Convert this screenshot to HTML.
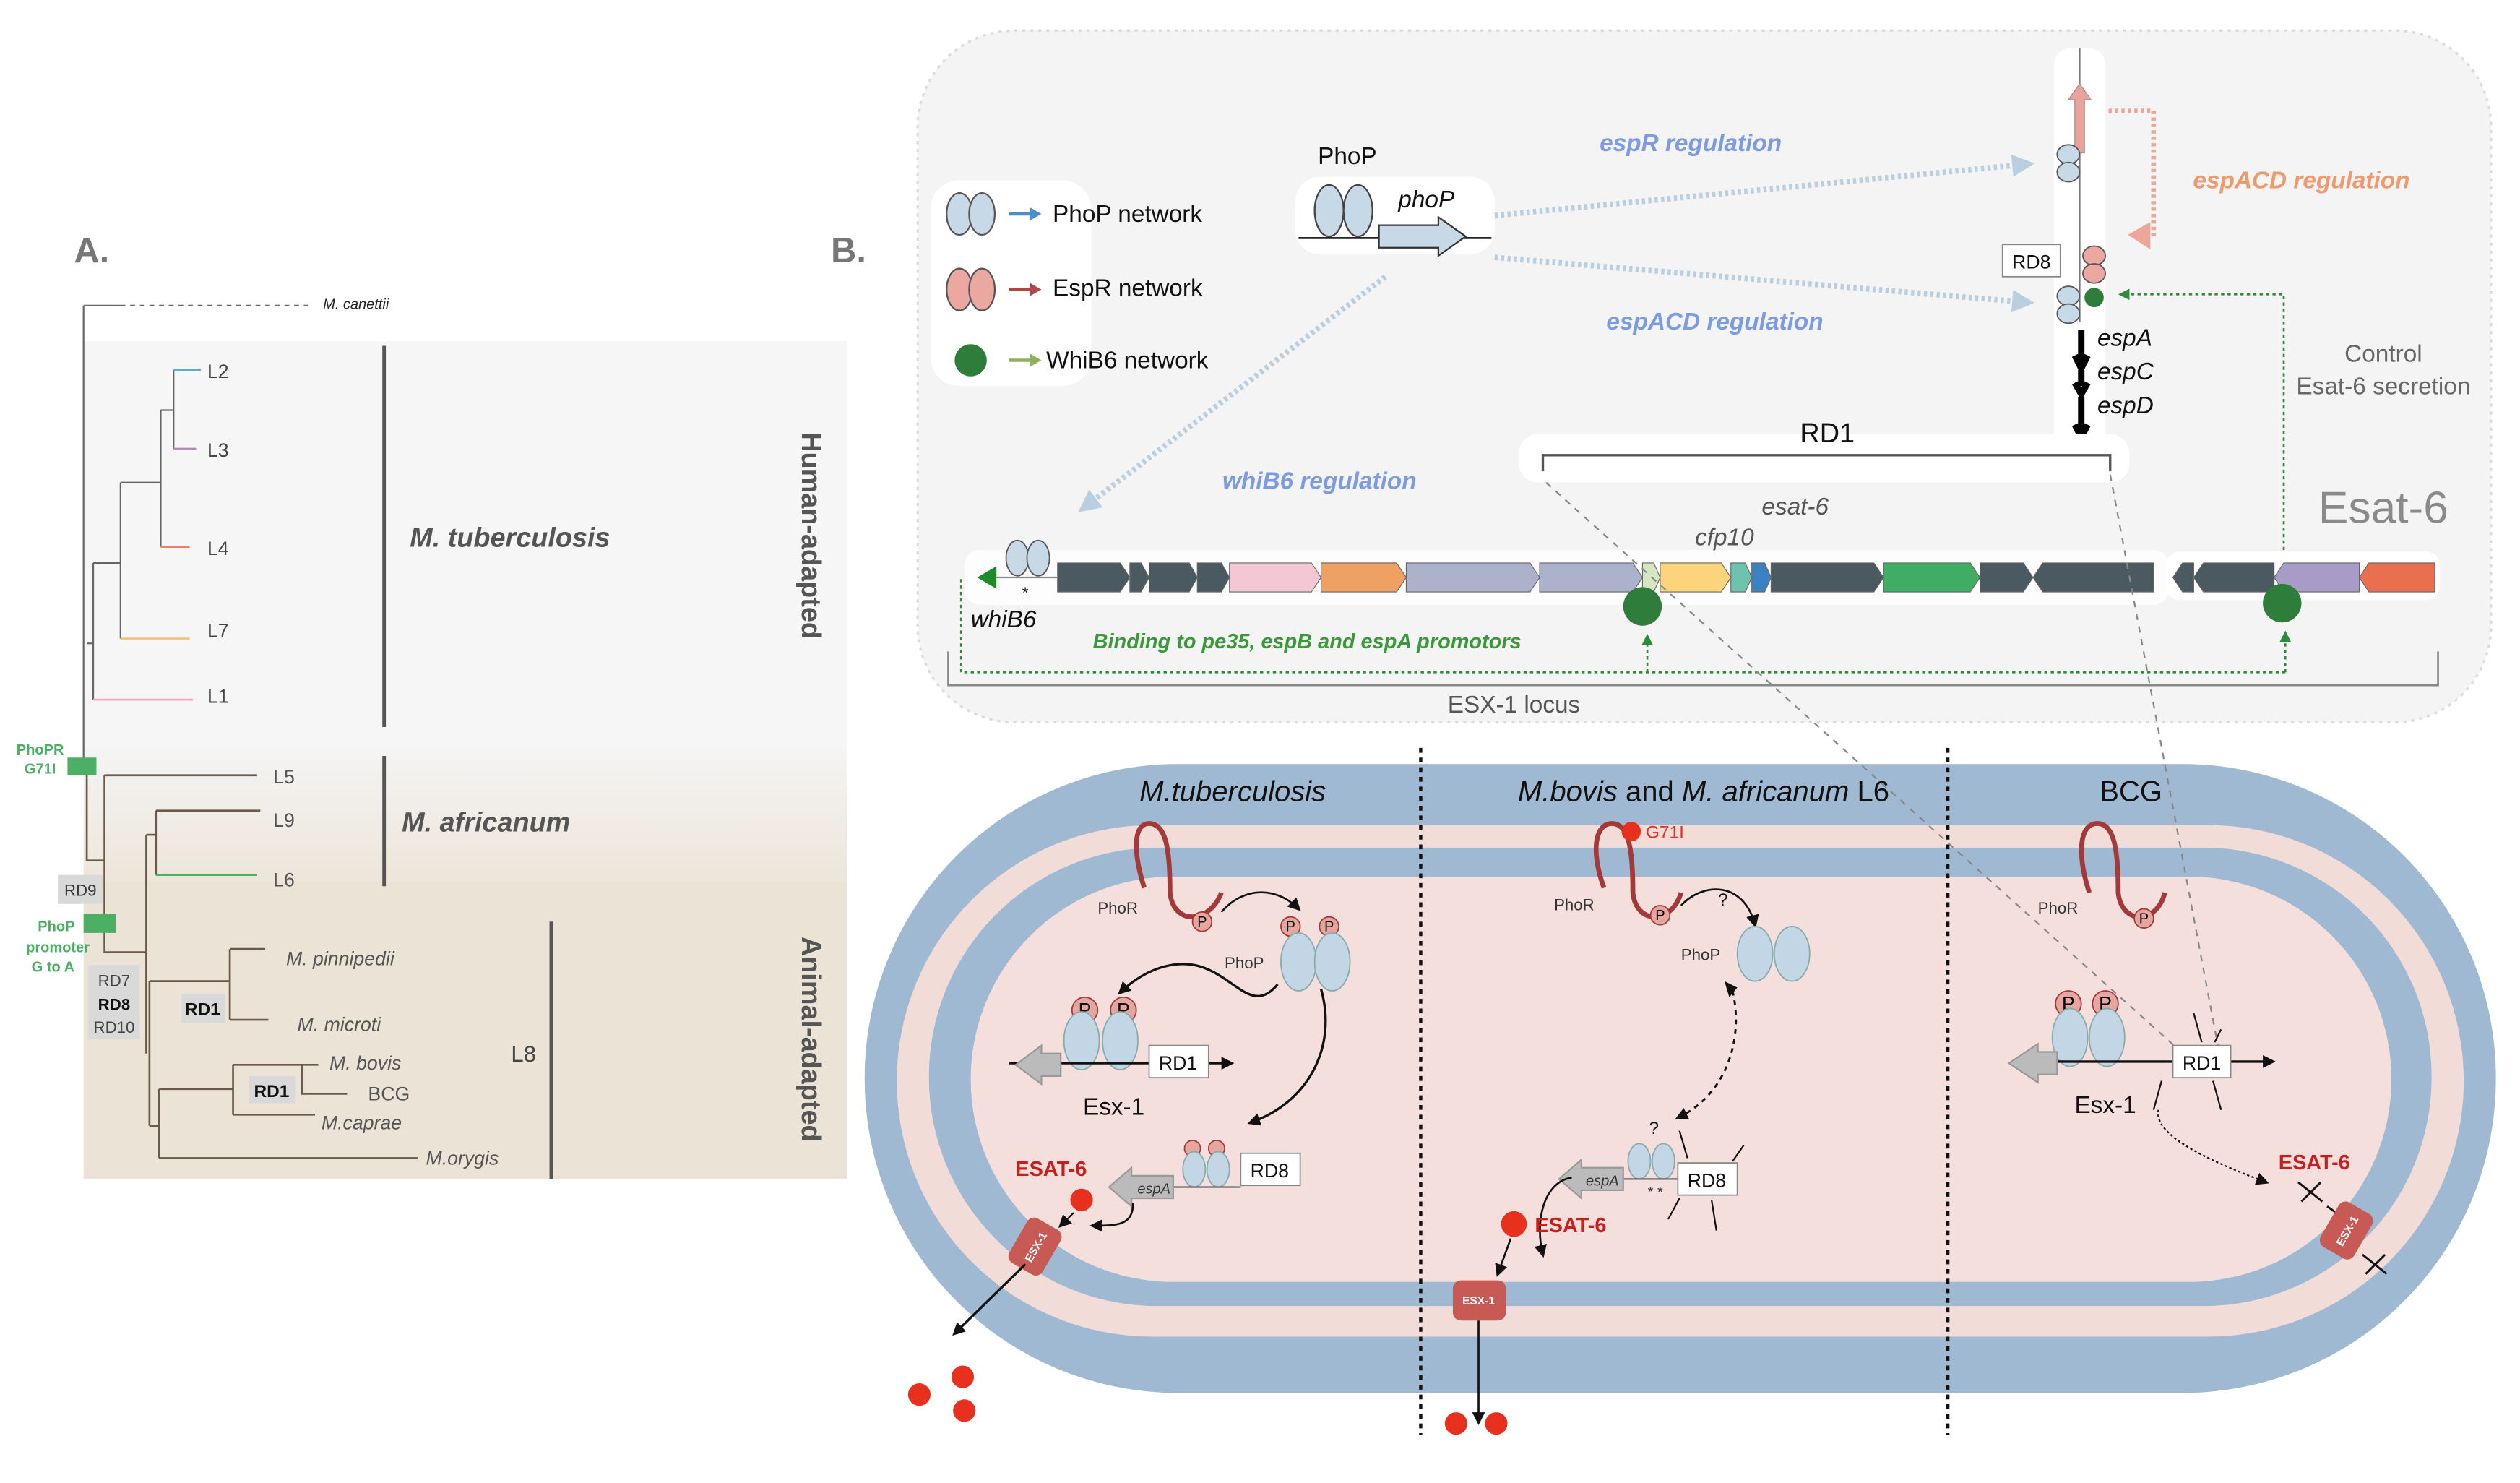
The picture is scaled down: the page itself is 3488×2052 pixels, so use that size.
<!DOCTYPE html>
<html><head><meta charset="utf-8"><style>
html,body{margin:0;padding:0;background:#fff;}
svg{display:block;}
text{font-family:"Liberation Sans",sans-serif;}
</style></head><body>
<svg width="3488" height="2052" viewBox="0 0 1568 922" preserveAspectRatio="none" xmlns="http://www.w3.org/2000/svg">
<defs>
<marker id="ab" markerWidth="8" markerHeight="8" refX="6" refY="4" orient="auto" markerUnits="userSpaceOnUse"><path d="M0,0 L8,4 L0,8 z" fill="#111"/></marker>
<marker id="ag" markerWidth="7" markerHeight="7" refX="5" refY="3.5" orient="auto" markerUnits="userSpaceOnUse"><path d="M0,0 L7,3.5 L0,7 z" fill="#2e8b3a"/></marker>
<marker id="alb" markerWidth="14" markerHeight="14" refX="10" refY="7" orient="auto" markerUnits="userSpaceOnUse"><path d="M0,0 L14,7 L0,14 z" fill="#b9cfe0"/></marker>
<linearGradient id="afr" x1="0" y1="0" x2="0" y2="1"><stop offset="0" stop-color="#f4f4f4"/><stop offset="1" stop-color="#ede5d9"/></linearGradient>
</defs>

<!-- ===== Panel A ===== -->
<text x="46" y="163" font-size="22" font-weight="bold" fill="#777">A.</text>
<rect x="52" y="212" width="475" height="253" fill="#f6f6f6"/>
<rect x="52" y="465" width="475" height="83" fill="url(#afr)"/>
<rect x="52" y="548" width="475" height="185" fill="#ebe3d6"/>

<g stroke="#666" stroke-width="1" fill="none">
<path d="M52,190 H75"/><path d="M75,190 H195" stroke-dasharray="3,3"/>
<path d="M52,190 V480"/>
<path d="M108,230 V279"/><path d="M100,255 H108"/><path d="M100,255 V340"/>
<path d="M75,300 H100"/><path d="M75,300 V397"/>
<path d="M58,350 H75"/><path d="M58,350 V435"/><path d="M54,400 H58"/>
</g>
<path d="M108,230 H125" stroke="#5aa9d6" stroke-width="1.2"/>
<path d="M108,279 H122" stroke="#b58ab8" stroke-width="1.2"/>
<path d="M100,340 H118" stroke="#e8806f" stroke-width="1.2"/>
<path d="M75,397 H118" stroke="#f2c27a" stroke-width="1.2"/>
<path d="M58,435 H120" stroke="#f0a9c4" stroke-width="1.2"/>
<g font-size="12" fill="#444">
<text x="129" y="235">L2</text><text x="129" y="284">L3</text><text x="129" y="345">L4</text><text x="129" y="396">L7</text><text x="129" y="437">L1</text>
</g>
<text x="201" y="192" font-size="9" font-style="italic" fill="#222">M. canettii</text>

<g stroke="#6b5a4a" stroke-width="1.2" fill="none">
<path d="M54,480 V535 H65"/><path d="M65,482 H160"/><path d="M65,482 V592 H91"/>
<path d="M91,519 V655"/><path d="M93,610 V700"/><path d="M91,519 H97"/>
<path d="M97,504 V544"/><path d="M97,504 H162"/>
<path d="M93,610 H143"/><path d="M143,590 V634"/><path d="M143,590 H165"/><path d="M143,634 H167"/>
<path d="M93,700 H99"/><path d="M99,677 V720"/><path d="M99,677 H145"/><path d="M145,662 V693"/>
<path d="M145,662 H198"/><path d="M188,662 V680 H216"/><path d="M145,693 H196"/>
<path d="M99,720 H260"/>
</g>
<path d="M97,544 H160" stroke="#4caf63" stroke-width="1.2"/>
<g font-size="12" fill="#555">
<text x="170" y="487">L5</text><text x="170" y="514">L9</text><text x="170" y="551">L6</text>
</g>
<g font-size="12" font-style="italic" fill="#555">
<text x="178" y="600">M. pinnipedii</text><text x="185" y="641">M. microti</text>
<text x="205" y="665">M. bovis</text><text x="200" y="702">M.caprae</text><text x="265" y="724">M.orygis</text>
</g>
<text x="229" y="684" font-size="12" fill="#555">BCG</text>
<text x="318" y="660" font-size="14" fill="#444">L8</text>
<rect x="113" y="618" width="27" height="18" fill="#d9d9d9"/><text x="126" y="631" font-size="11" font-weight="bold" text-anchor="middle" fill="#111">RD1</text>
<rect x="155" y="669" width="29" height="17" fill="#d9d9d9"/><text x="169" y="682" font-size="11" font-weight="bold" text-anchor="middle" fill="#111">RD1</text>
<rect x="36" y="544" width="28" height="18" fill="#d9d9d9"/><text x="50" y="557" font-size="10" text-anchor="middle" fill="#333">RD9</text>
<rect x="55" y="600" width="32" height="46" fill="#d9d9d9"/>
<text x="71" y="613" font-size="10" text-anchor="middle" fill="#444">RD7</text>
<text x="71" y="628" font-size="10" font-weight="bold" text-anchor="middle" fill="#111">RD8</text>
<text x="71" y="642" font-size="10" text-anchor="middle" fill="#444">RD10</text>
<rect x="42" y="471" width="18" height="11" fill="#4caf63"/>
<text x="25" y="469" font-size="9" font-weight="bold" text-anchor="middle" fill="#4caf63">PhoPR</text>
<text x="25" y="481" font-size="9" font-weight="bold" text-anchor="middle" fill="#4caf63">G71I</text>
<rect x="52" y="568" width="20" height="12" fill="#4caf63"/>
<g font-size="9" font-weight="bold" text-anchor="middle" fill="#4caf63">
<text x="35" y="579">PhoP</text><text x="36" y="592">promoter</text><text x="33" y="604">G to A</text></g>
<g stroke="#555" stroke-width="2.2">
<path d="M239,215 V452"/><path d="M239,470 V551"/><path d="M343,573 V733"/></g>
<text x="255" y="340" font-size="17" font-weight="bold" font-style="italic" fill="#555">M. tuberculosis</text>
<text x="250" y="517" font-size="17" font-weight="bold" font-style="italic" fill="#555">M. africanum</text>
<text transform="translate(499,333) rotate(90)" font-size="17" font-weight="bold" text-anchor="middle" fill="#555">Human-adapted</text>
<text transform="translate(499,646) rotate(90)" font-size="17" font-weight="bold" text-anchor="middle" fill="#555">Animal-adapted</text>

<!-- ===== Panel B top ===== -->
<text x="517" y="163" font-size="22" font-weight="bold" fill="#777">B.</text>
<rect x="571" y="19" width="979" height="430" rx="60" fill="#f4f4f4" stroke="#dcdcdc" stroke-width="1.5" stroke-dasharray="2,3"/>
<rect x="579" y="112" width="100" height="128" rx="18" fill="#fff"/>
<g stroke="#555" stroke-width="1">
<ellipse cx="597" cy="133" rx="8" ry="13" fill="#c7d8e6"/><ellipse cx="611" cy="133" rx="8" ry="13" fill="#c7d8e6"/>
<ellipse cx="597" cy="180" rx="8" ry="13" fill="#eaa8a0"/><ellipse cx="611" cy="180" rx="8" ry="13" fill="#eaa8a0"/>
</g>
<circle cx="604" cy="224" r="10" fill="#2f7d3a"/>
<path d="M628,133 H642" stroke="#4a8ed0" stroke-width="2"/><path d="M641,129 L648,133 L641,137z" fill="#4a8ed0"/>
<path d="M628,180 H642" stroke="#b04646" stroke-width="2"/><path d="M641,176 L648,180 L641,184z" fill="#b04646"/>
<path d="M628,224 H642" stroke="#8fb05a" stroke-width="2"/><path d="M641,220 L648,224 L641,228z" fill="#8fb05a"/>
<g font-size="15" fill="#111"><text x="655" y="138">PhoP network</text><text x="655" y="184">EspR network</text><text x="651" y="229">WhiB6 network</text></g>

<rect x="806" y="110" width="124" height="48" rx="15" fill="#fff"/>
<text x="820" y="102" font-size="15" fill="#111">PhoP</text>
<g stroke="#444" stroke-width="1"><ellipse cx="827" cy="131" rx="9" ry="16" fill="#c7d8e6"/><ellipse cx="845" cy="131" rx="9" ry="16" fill="#c7d8e6"/></g>
<path d="M808,148 H928" stroke="#222" stroke-width="1.2"/>
<path d="M858,140 H895 V135 L912,147 L895,159 V154 H858z" fill="#c7d8e6" stroke="#333" stroke-width="1"/>
<text x="870" y="129" font-size="15" font-style="italic" fill="#111">phoP</text>

<g stroke="#b9cfe0" stroke-width="3.5" stroke-dasharray="2,2" fill="none">
<path d="M930,134 L1262,102" marker-end="url(#alb)"/>
<path d="M930,160 L1262,188" marker-end="url(#alb)"/>
<path d="M862,172 L674,316" marker-end="url(#alb)"/>
</g>
<g font-size="15" font-weight="bold" font-style="italic" fill="#7b9be2">
<text x="1052" y="94" text-anchor="middle">espR regulation</text>
<text x="1067" y="205" text-anchor="middle">espACD regulation</text>
<text x="821" y="304" text-anchor="middle">whiB6 regulation</text></g>
<text x="1432" y="117" font-size="15" font-weight="bold" font-style="italic" fill="#ee9a6e" text-anchor="middle">espACD regulation</text>

<rect x="1278" y="30" width="32" height="250" rx="10" fill="#fff"/>
<path d="M1294,30 V200" stroke="#777" stroke-width="1"/>
<path d="M1291,95 V62 H1287 L1294,52 L1301,62 H1297 V95z" fill="#e8a49c" stroke="#b88" stroke-width="0.6"/>
<path d="M1312,69 H1340 V148" stroke="#eca69a" stroke-width="3" stroke-dasharray="2,2" fill="none"/>
<path d="M1338,138 L1324,146 L1338,155z" fill="#eca69a"/>
<g stroke="#555" stroke-width="0.8">
<ellipse cx="1287" cy="96" rx="7" ry="6" fill="#c7d8e6"/><ellipse cx="1287" cy="107" rx="7" ry="6" fill="#c7d8e6"/>
<ellipse cx="1303" cy="159" rx="7" ry="6" fill="#eaa8a0"/><ellipse cx="1303" cy="170" rx="7" ry="6" fill="#eaa8a0"/>
<ellipse cx="1287" cy="184" rx="7" ry="6" fill="#c7d8e6"/><ellipse cx="1287" cy="195" rx="7" ry="6" fill="#c7d8e6"/>
</g>
<circle cx="1303" cy="185" r="6" fill="#2f7d3a"/>
<rect x="1246" y="152" width="36" height="20" fill="#fff" stroke="#888" stroke-width="0.8"/>
<text x="1264" y="167" font-size="12" text-anchor="middle" fill="#111">RD8</text>
<path d="M1295,205 V225 M1291,221 L1295,229 L1299,221 M1295,230 V240 M1291,238 L1295,245 L1299,238 M1295,247 V268 M1291,264 L1295,272 L1299,264" stroke="#000" stroke-width="4" fill="none"/>
<g font-size="15" font-style="italic" fill="#111"><text x="1305" y="215">espA</text><text x="1305" y="236">espC</text><text x="1305" y="257">espD</text></g>
<path d="M1421,350 V183 H1320" stroke="#2e8b3a" stroke-width="1.2" stroke-dasharray="2,2" fill="none" marker-end="url(#ag)"/>
<text x="1483" y="225" font-size="15" fill="#666" text-anchor="middle">Control</text>
<text x="1483" y="245" font-size="15" fill="#666" text-anchor="middle">Esat-6 secretion</text>
<text x="1483" y="325" font-size="28" fill="#8a8a8a" text-anchor="middle">Esat-6</text>

<rect x="945" y="270" width="380" height="30" rx="12" fill="#fff"/>
<text x="1137" y="275" font-size="17" fill="#111" text-anchor="middle">RD1</text>
<path d="M960,293 V283 H1313 V293" stroke="#555" stroke-width="1.5" fill="none"/>

<!-- gene track -->
<rect x="600" y="342" width="750" height="34" rx="10" fill="#fff" opacity="0.8"/>
<rect x="1348" y="343" width="170" height="30" rx="8" fill="#fff"/>
<text x="1117" y="320" font-size="15" font-style="italic" fill="#555" text-anchor="middle">esat-6</text>
<text x="1073" y="339" font-size="15" font-style="italic" fill="#555" text-anchor="middle">cfp10</text>
<g stroke="#666" stroke-width="0.5">
<polygon points="658,350 697,350 703,359 697,368 658,368" fill="#4b5a60"/>
<polygon points="703,350 710,350 715,359 710,368 703,368" fill="#4b5a60"/>
<polygon points="715,350 740,350 745,359 740,368 715,368" fill="#4b5a60"/>
<polygon points="745,350 760,350 765,359 760,368 745,368" fill="#4b5a60"/>
<polygon points="765,350 816,350 822,359 816,368 765,368" fill="#f3c8d4"/>
<polygon points="822,350 869,350 875,359 869,368 822,368" fill="#efa063"/>
<polygon points="875,350 952,350 958,359 952,368 875,368" fill="#adb2cc"/>
<polygon points="958,350 1016,350 1022,359 1016,368 958,368" fill="#adb2cc"/>
<polygon points="1022,350 1029,350 1033,359 1029,368 1022,368" fill="#d6e6c3"/>
<polygon points="1033,350 1071,350 1077,359 1071,368 1033,368" fill="#fcd47c"/>
<polygon points="1077,350 1086,350 1090,359 1086,368 1077,368" fill="#6fc2ae"/>
<polygon points="1090,350 1098,350 1102,359 1098,368 1090,368" fill="#3b82c2"/>
<polygon points="1102,350 1166,350 1172,359 1166,368 1102,368" fill="#4b5a60"/>
<polygon points="1172,350 1226,350 1232,359 1226,368 1172,368" fill="#3fad63"/>
<polygon points="1232,350 1259,350 1265,359 1259,368 1232,368" fill="#4b5a60"/>
<polygon points="1271,350 1340,350 1340,368 1271,368 1265,359" fill="#4b5a60"/>
<polygon points="1358,350 1365,350 1365,368 1358,368 1352,359" fill="#4b5a60"/>
<polygon points="1371,350 1415,350 1415,368 1371,368 1365,359" fill="#4b5a60"/>
<polygon points="1421,350 1468,350 1468,368 1421,368 1415,359" fill="#a99bc8"/>
<polygon points="1474,350 1515,350 1515,368 1474,368 1468,359" fill="#e8704e"/>
</g>
<path d="M620,359 H658" stroke="#888" stroke-width="1"/>
<path d="M620,352 L608,359 L620,366z" fill="#1f8a2a"/>
<g stroke="#555" stroke-width="0.8"><ellipse cx="633" cy="347" rx="7" ry="11" fill="#c7d8e6"/><ellipse cx="646" cy="347" rx="7" ry="11" fill="#c7d8e6"/></g>
<text x="636" y="372" font-size="10" fill="#111">*</text>
<text x="604" y="390" font-size="15" font-style="italic" fill="#111">whiB6</text>
<ellipse cx="1022" cy="377" rx="12" ry="12" fill="#2f7d3a"/>
<ellipse cx="1420" cy="375" rx="12" ry="12" fill="#2f7d3a"/>
<text x="680" y="403" font-size="13" font-weight="bold" font-style="italic" fill="#3a9a3a">Binding to pe35, espB and espA promotors</text>
<g stroke="#2e8b3a" stroke-width="1.2" stroke-dasharray="2,2" fill="none">
<path d="M598,360 V418 H1422"/><path d="M1025,418 V396" marker-end="url(#ag)"/><path d="M1422,418 V394" marker-end="url(#ag)"/></g>
<path d="M590,405 V426 H1517 V405" stroke="#888" stroke-width="1.2" fill="none"/>
<text x="942" y="443" font-size="15" fill="#555" text-anchor="middle">ESX-1 locus</text>

<!-- ===== Cell ===== -->
<rect x="538" y="475" width="1015" height="391" rx="195" fill="#a0b9d2"/>
<rect x="558" y="513" width="975" height="318" rx="159" fill="#f2dcd8"/>
<rect x="578" y="527" width="935" height="285" rx="142" fill="#a0b9d2"/>
<rect x="604" y="545" width="884" height="252" rx="126" fill="#f4dfdc"/>
<g stroke="#111" stroke-width="2" stroke-dasharray="3,3"><path d="M884,465 V892"/><path d="M1212,465 V892"/></g>
<g font-size="18" fill="#111">
<text x="767" y="498" text-anchor="middle" font-style="italic">M.tuberculosis</text>
<text x="1060" y="498" text-anchor="middle"><tspan font-style="italic">M.bovis</tspan> and <tspan font-style="italic">M. africanum</tspan> L6</text>
<text x="1326" y="498" text-anchor="middle">BCG</text></g>

<!-- compartment 1 -->
<path d="M712,552 C705,530 705,512 715,512 C726,512 728,530 728,555 C730,575 752,575 760,555" stroke="#a33a3a" stroke-width="3" fill="none"/>
<text x="683" y="568" font-size="10" fill="#333">PhoR</text>
<g stroke="#a33a3a" stroke-width="0.8" fill="#e6a6a0" font-size="9">
<circle cx="748" cy="573" r="6"/><circle cx="803" cy="576" r="6"/><circle cx="827" cy="576" r="6"/>
<circle cx="675" cy="628" r="8"/><circle cx="699" cy="628" r="8"/>
<circle cx="742" cy="714" r="5"/><circle cx="757" cy="714" r="5"/></g>
<g font-size="9" fill="#111" text-anchor="middle"><text x="748" y="576">P</text><text x="803" y="579">P</text><text x="827" y="579">P</text>
<text x="675" y="632" font-size="12">P</text><text x="699" y="632" font-size="12">P</text></g>
<path d="M760,567 C775,550 795,552 808,565" stroke="#111" stroke-width="1.2" fill="none" marker-end="url(#ab)"/>
<g stroke="#8aa" stroke-width="0.8" fill="#c3d6e6">
<ellipse cx="808" cy="598" rx="11" ry="18"/><ellipse cx="829" cy="598" rx="11" ry="18"/>
<ellipse cx="673" cy="647" rx="11" ry="18"/><ellipse cx="697" cy="647" rx="11" ry="18"/>
<ellipse cx="743" cy="727" rx="7" ry="11"/><ellipse cx="758" cy="727" rx="7" ry="11"/></g>
<text x="762" y="602" font-size="10" fill="#333">PhoP</text>
<path d="M795,612 C780,630 770,610 750,602 C735,596 715,600 697,617" stroke="#111" stroke-width="1.5" fill="none" marker-end="url(#ab)"/>
<path d="M628,661 H766" stroke="#111" stroke-width="1.5" marker-end="url(#ab)"/>
<path d="M660,655 H648 V650 L632,662 L648,674 V669 H660z" fill="#bbb" stroke="#999"/>
<rect x="715" y="650" width="37" height="20" fill="#fff" stroke="#888" stroke-width="0.8"/><text x="733" y="665" font-size="12" text-anchor="middle" fill="#111">RD1</text>
<text x="693" y="693" font-size="15" text-anchor="middle" fill="#111">Esx-1</text>
<path d="M822,615 C832,650 815,685 778,698" stroke="#111" stroke-width="1.5" fill="none" marker-end="url(#ab)"/>
<path d="M730,738 H772" stroke="#666" stroke-width="1"/>
<path d="M730,731 H704 V726 L690,738 L704,750 V745 H730z" fill="#bbb" stroke="#999"/>
<text x="718" y="742" font-size="9" font-style="italic" fill="#333" text-anchor="middle">espA</text>
<rect x="772" y="717" width="37" height="20" fill="#fff" stroke="#888" stroke-width="0.8"/><text x="790" y="732" font-size="12" text-anchor="middle" fill="#111">RD8</text>
<text x="654" y="731" font-size="13" font-weight="bold" fill="#c81e1e" text-anchor="middle">ESAT-6</text>
<ellipse cx="673" cy="746" rx="7" ry="7" fill="#e8301e"/>
<path d="M705,748 C705,762 695,762 680,762" stroke="#111" stroke-width="1.2" fill="none" marker-end="url(#ab)"/>
<path d="M668,754 L660,762" stroke="#111" stroke-width="1" marker-end="url(#ab)"/>
<g transform="translate(644,775) rotate(-60)"><rect x="-16" y="-12" width="32" height="24" rx="5" fill="#c85a55"/><text x="0" y="3" font-size="7" font-weight="bold" text-anchor="middle" fill="#fff">ESX-1</text></g>
<path d="M638,786 L594,829" stroke="#111" stroke-width="1.5" marker-end="url(#ab)"/>
<g fill="#e8301e"><ellipse cx="599" cy="856" rx="7" ry="7"/><ellipse cx="572" cy="867" rx="7" ry="7"/><ellipse cx="600" cy="877" rx="7" ry="7"/></g>

<!-- compartment 2 -->
<path d="M998,552 C990,530 992,512 1003,512 C1014,512 1016,530 1016,555 C1018,575 1040,575 1046,555" stroke="#a33a3a" stroke-width="3" fill="none"/>
<circle cx="1015" cy="517" r="6" fill="#e8301e"/><text x="1024" y="521" font-size="11" fill="#e8301e">G71I</text>
<text x="967" y="566" font-size="10" fill="#333">PhoR</text>
<circle cx="1033" cy="569" r="6" fill="#e6a6a0" stroke="#a33a3a" stroke-width="0.8"/><text x="1033" y="572" font-size="9" text-anchor="middle">P</text>
<path d="M1046,563 C1060,548 1085,548 1092,575" stroke="#111" stroke-width="1.2" fill="none" marker-end="url(#ab)"/>
<text x="1069" y="563" font-size="11" fill="#111">?</text>
<g stroke="#8aa" stroke-width="0.8" fill="#c3d6e6">
<ellipse cx="1092" cy="593" rx="11" ry="17"/><ellipse cx="1115" cy="593" rx="11" ry="17"/>
<ellipse cx="1020" cy="722" rx="7" ry="11"/><ellipse cx="1035" cy="722" rx="7" ry="11"/></g>
<text x="1046" y="597" font-size="10" fill="#333">PhoP</text>
<path d="M1078,616 C1085,645 1075,680 1044,695" stroke="#111" stroke-width="1.3" stroke-dasharray="3,3" fill="none" marker-end="url(#ab)"/>
<path d="M1076,620 L1073,610 L1081,614z" fill="#111"/>
<text x="1026" y="705" font-size="11" fill="#111">?</text>
<path d="M1008,733 H1046" stroke="#666" stroke-width="1"/>
<path d="M1010,726 H984 V721 L970,733 L984,745 V740 H1010z" fill="#bbb" stroke="#999"/>
<text x="997" y="737" font-size="9" font-style="italic" fill="#333" text-anchor="middle">espA</text>
<text x="1030" y="744" font-size="9" fill="#333" text-anchor="middle">* *</text>
<rect x="1044" y="723" width="37" height="20" fill="#fff" stroke="#888" stroke-width="0.8"/><text x="1062" y="738" font-size="12" text-anchor="middle" fill="#111">RD8</text>
<g stroke="#111" stroke-width="1"><path d="M1045,703 L1050,720"/><path d="M1085,712 L1078,722"/><path d="M1065,746 L1068,765"/><path d="M1045,745 L1038,758"/></g>
<path d="M978,732 C960,735 955,760 960,780" stroke="#111" stroke-width="1.2" fill="none" marker-end="url(#ab)"/>
<ellipse cx="942" cy="761" rx="8" ry="8" fill="#e8301e"/>
<text x="955" y="766" font-size="13" font-weight="bold" fill="#c81e1e">ESAT-6</text>
<path d="M940,770 L932,792" stroke="#111" stroke-width="1.2" marker-end="url(#ab)"/>
<rect x="904" y="796" width="33" height="25" rx="5" fill="#c85a55"/><text x="920" y="811" font-size="7" font-weight="bold" text-anchor="middle" fill="#fff">ESX-1</text>
<path d="M920,821 V884" stroke="#111" stroke-width="1.2" marker-end="url(#ab)"/>
<g fill="#e8301e"><ellipse cx="906" cy="885" rx="7" ry="7"/><ellipse cx="931" cy="885" rx="7" ry="7"/></g>

<!-- compartment 3 -->
<path d="M1300,555 C1292,530 1294,512 1305,512 C1316,512 1318,530 1318,555 C1320,575 1342,575 1347,555" stroke="#a33a3a" stroke-width="3" fill="none"/>
<text x="1268" y="568" font-size="10" fill="#333">PhoR</text>
<circle cx="1334" cy="571" r="6" fill="#e6a6a0" stroke="#a33a3a" stroke-width="0.8"/><text x="1334" y="574" font-size="9" text-anchor="middle">P</text>
<g stroke="#a33a3a" stroke-width="0.8" fill="#e6a6a0"><circle cx="1287" cy="624" r="8"/><circle cx="1310" cy="624" r="8"/></g>
<text x="1287" y="628" font-size="12" text-anchor="middle">P</text><text x="1310" y="628" font-size="12" text-anchor="middle">P</text>
<g stroke="#8aa" stroke-width="0.8" fill="#c3d6e6"><ellipse cx="1288" cy="645" rx="11" ry="18"/><ellipse cx="1311" cy="645" rx="11" ry="18"/></g>
<path d="M1275,660 H1414" stroke="#111" stroke-width="1.5" marker-end="url(#ab)"/>
<path d="M1280,654 H1268 V649 L1250,661 L1268,673 V668 H1280z" fill="#bbb" stroke="#999"/>
<rect x="1352" y="650" width="36" height="20" fill="#fff" stroke="#888" stroke-width="0.8"/><text x="1370" y="665" font-size="12" text-anchor="middle" fill="#111">RD1</text>
<g stroke="#111" stroke-width="1"><path d="M1365,630 L1370,648"/><path d="M1345,672 L1340,690"/><path d="M1377,672 L1382,690"/><path d="M1382,640 L1378,648"/></g>
<text x="1310" y="692" font-size="15" text-anchor="middle" fill="#111">Esx-1</text>
<path d="M1343,690 C1340,705 1370,720 1410,735" stroke="#111" stroke-width="1" stroke-dasharray="1.5,1.5" fill="none" marker-end="url(#ab)"/>
<text x="1440" y="727" font-size="13" font-weight="bold" fill="#c81e1e" text-anchor="middle">ESAT-6</text>
<g stroke="#111" stroke-width="1.3"><path d="M1430,735 L1445,747 M1432,747 L1444,735"/><path d="M1470,780 L1485,792 M1472,792 L1484,780"/><path d="M1448,750 L1455,755"/></g>
<g transform="translate(1460,765) rotate(-60)"><rect x="-16" y="-12" width="32" height="24" rx="5" fill="#c85a55"/><text x="0" y="3" font-size="7" font-weight="bold" text-anchor="middle" fill="#fff">ESX-1</text></g>

<!-- RD1 dashed projection lines (on top) -->
<g stroke="#888" stroke-width="1" stroke-dasharray="4,4" fill="none">
<path d="M962,300 L1355,652"/><path d="M1313,295 L1380,650"/></g>
</svg>
</body></html>
